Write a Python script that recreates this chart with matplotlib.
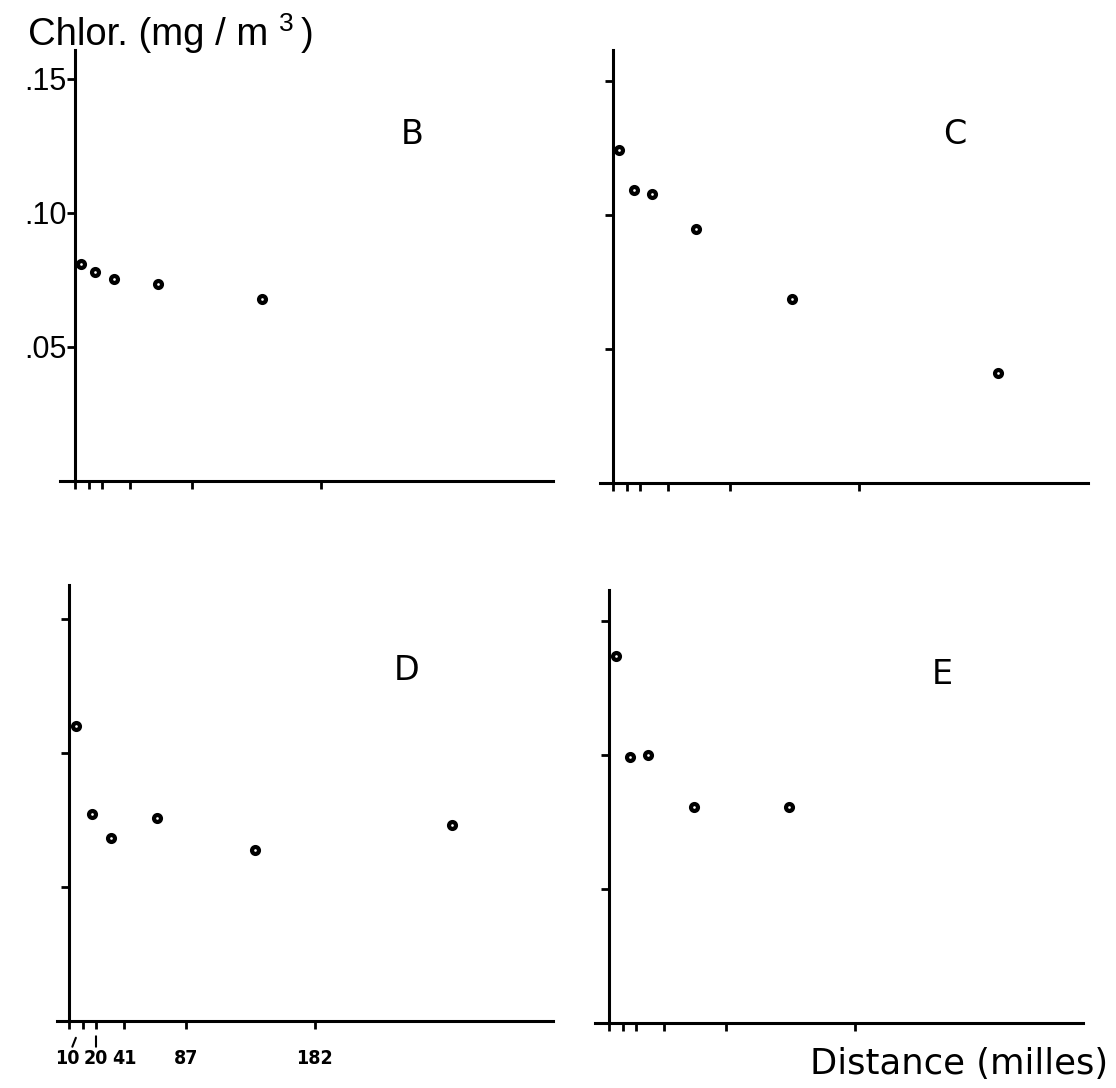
import matplotlib
matplotlib.use("Agg")
import matplotlib.pyplot as plt
from matplotlib import font_manager

# distance from shore (miles) and chlorophyll (mg/m3) for each section
dist_B = [4.5, 14.7, 28.9, 61.4, 138.3]
chl_B = [0.0809, 0.0780, 0.0753, 0.0736, 0.0678]

dist_C = [4.5, 15.7, 28.7, 61.3, 132.3, 285.0]
chl_C = [0.1241, 0.1093, 0.1080, 0.0946, 0.0688, 0.0412]

dist_D = [5.0, 16.7, 31.0, 65.0, 138.0, 284.0]
chl_D = [0.1102, 0.0774, 0.0682, 0.0756, 0.0637, 0.0730]

dist_E = [5.5, 15.2, 28.7, 62.8, 133.0]
chl_E = [0.1369, 0.0991, 0.1000, 0.0807, 0.0807]

x_ticks = [0, 10, 20, 41, 87, 182]
x_tick_labels = ["10", "20", "41", "87", "182"]
y_ticks = [0.05, 0.10, 0.15]
y_tick_labels = [".05", ".10", ".15"]

W, H = 1116, 1088
fig = plt.figure(figsize=(W / 100, H / 100), dpi=100)

PX_MILE = 1.35   # pixels per mile
PX_UNIT = 2680   # pixels per mg/m3
SANS = ["Liberation Sans", "DejaVu Sans"]

# narrow bold digits for the distance labels, if a condensed face is installed
cond = font_manager.FontProperties(family="DejaVu Sans", stretch="condensed", weight="bold")
if "Condensed" in font_manager.findfont(cond, fallback_to_default=False):
    lab_font = dict(fontsize=14, fontweight="bold", family="DejaVu Sans", fontstretch="condensed")
else:
    lab_font = dict(fontsize=14, fontweight="bold", family=SANS)


def make_panel(name, xs, ys, y_axis_px, x_axis_px, x_start, x_end, top, letter_pos):
    ax = fig.add_axes([x_start / W, (H - x_axis_px) / H,
                       (x_end - x_start) / W, (x_axis_px - top) / H])
    ax.set_xlim(-(y_axis_px - x_start) / PX_MILE, (x_end - y_axis_px) / PX_MILE)
    ax.set_ylim(0, (x_axis_px - top) / PX_UNIT)
    for s in ["top", "right"]:
        ax.spines[s].set_visible(False)
    ax.spines["left"].set_position(("data", 0))
    ax.spines["left"].set_linewidth(2.2)
    ax.spines["bottom"].set_linewidth(2.2)
    ax.set_xticks(x_ticks)
    ax.set_xticklabels([])
    ax.set_yticks(y_ticks)
    ax.set_yticklabels([])
    ax.tick_params(direction="out", length=6, width=2, pad=0)
    ax.plot(xs, ys, "o", ms=5, mfc="white", mec="black", mew=3, clip_on=False)
    fig.text(letter_pos[0] / W, 1 - letter_pos[1] / H, name,
             fontsize=24, family="DejaVu Sans", ha="center", va="center")
    ax.patch.set_alpha(0)
    return ax


axB = make_panel("B", dist_B, chl_B, 75, 481, 60, 553, 50, (412, 134))
axC = make_panel("C", dist_C, chl_C, 613, 483, 600, 1088, 50, (955, 135))
axD = make_panel("D", dist_D, chl_D, 69, 1021, 57, 553, 585, (407, 670))
axE = make_panel("E", dist_E, chl_E, 609, 1023, 595, 1083, 590, (942, 675))

# y tick labels only on panel B
axB.set_yticklabels(y_tick_labels, fontsize=22, family=SANS)

# x tick labels under panel D, with small leader lines for 10 and 20
label_offsets = {"10": (-15, 13), "20": (0, 11), "41": (0.5, 0), "87": (0, 0), "182": (0, 0)}
for val, lab in zip(x_ticks[1:], x_tick_labels):
    dx, shrink = label_offsets[lab]
    arrow = dict(arrowstyle="-", lw=1.5, shrinkA=0, shrinkB=shrink) if shrink else None
    axD.annotate(lab, xy=(val, 0), xytext=(dx * 0.72, -38 * 0.72),
                 textcoords="offset points", ha="center", va="center",
                 arrowprops=arrow, **lab_font)

# axis titles
fig.text(28 / W, 1 - 45 / H, "Chlor. (mg / m", fontsize=27.5, family=SANS,
         ha="left", va="baseline")
fig.text(279 / W, 1 - 31 / H, "3", fontsize=19, family=SANS, ha="left", va="baseline")
fig.text(301 / W, 1 - 45 / H, ")", fontsize=27.5, family=SANS, ha="left", va="baseline")
fig.text(1108 / W, 1 - 1064 / H, "Distance (milles)", fontsize=25.5,
         family="DejaVu Sans", ha="right", va="center")

fig.savefig("out.png", dpi=100)
